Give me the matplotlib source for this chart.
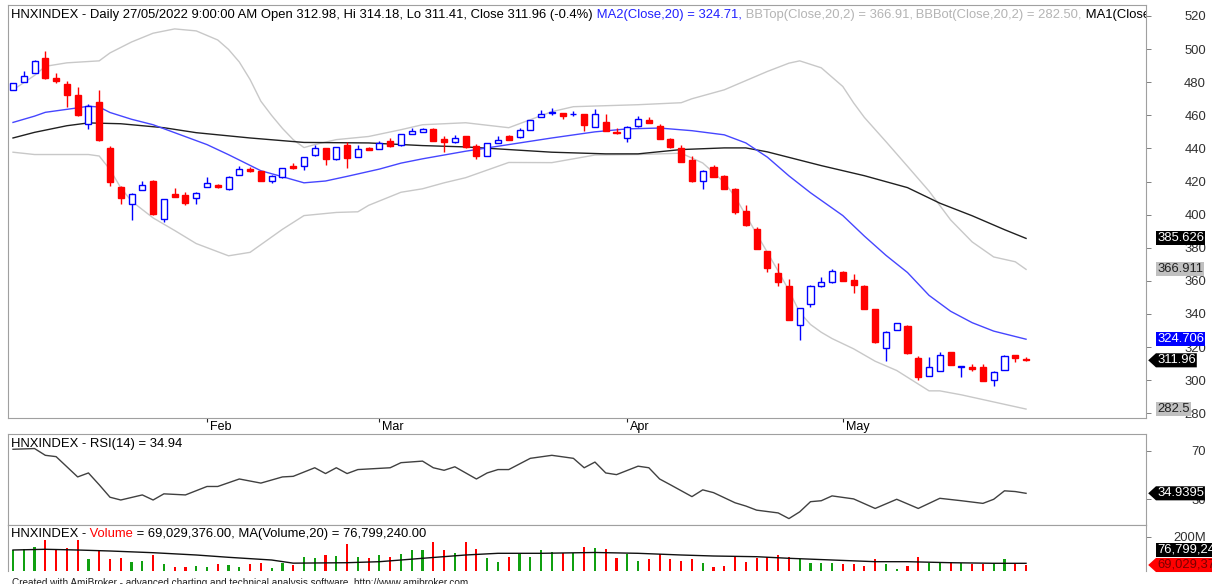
import numpy as np
import matplotlib
matplotlib.use("Agg")
import matplotlib.pyplot as plt
from matplotlib.path import Path
from matplotlib import transforms

plt.rcParams['font.family'] = ['Liberation Sans', 'DejaVu Sans']

# --- HNXINDEX daily candles, Jan -> 27 May 2022 ---
opens = [475.4, 480.4, 485.5, 494.9, 482.3, 479.0, 472.4, 454.9, 467.8, 440.3,
         416.8, 406.2, 414.8, 420.6, 397.5, 412.2, 411.6, 410.2, 416.8, 418.0,
         415.2, 424.2, 427.8, 426.2, 420.6, 423.0, 429.2, 429.2, 435.9, 440.3,
         433.3, 442.3, 434.9, 440.3, 439.9, 444.7, 441.9, 448.9, 449.9, 451.9,
         445.7, 443.7, 447.3, 441.3, 435.7, 443.3, 447.3, 446.7, 451.3, 459.0,
         461.4, 461.4, 460.6, 460.8, 453.0, 456.0, 450.0, 446.3, 453.3, 457.4,
         453.3, 445.9, 440.1, 432.8, 420.2, 428.8, 423.6, 415.6, 402.1, 391.5,
         378.0, 365.0, 357.0, 333.5, 345.9, 356.6, 359.4, 365.6, 360.4, 357.0,
         342.9, 319.6, 330.2, 332.9, 313.4, 302.7, 305.4, 316.8, 307.7, 307.7,
         307.7, 300.1, 306.1, 315.2, 312.98]
highs = [479.6, 486.5, 493.5, 499.1, 485.5, 480.8, 477.0, 467.0, 475.0, 441.3,
         417.0, 412.8, 420.2, 420.8, 409.5, 416.2, 413.6, 413.4, 422.6, 418.2,
         423.2, 429.6, 428.6, 426.4, 424.2, 428.4, 431.2, 435.1, 442.3, 440.5,
         441.1, 443.7, 442.3, 440.9, 444.5, 446.3, 448.9, 452.3, 452.3, 452.1,
         447.3, 448.3, 447.5, 442.7, 443.5, 447.3, 448.3, 452.3, 457.1, 463.4,
         464.4, 461.6, 462.9, 461.0, 463.8, 460.8, 452.3, 453.3, 459.4, 459.0,
         454.5, 446.1, 441.9, 435.5, 426.8, 430.2, 423.8, 415.8, 405.5, 392.7,
         378.2, 371.0, 361.0, 343.5, 357.2, 362.0, 367.0, 365.8, 364.0, 357.2,
         343.1, 329.4, 334.7, 333.1, 314.8, 313.8, 316.8, 317.0, 308.5, 309.8,
         309.8, 305.3, 315.0, 315.4, 314.18]
lows = [475.2, 480.2, 485.3, 482.0, 479.4, 465.0, 459.8, 451.7, 444.7, 417.2,
        406.2, 397.0, 414.6, 399.8, 395.5, 410.6, 405.5, 406.7, 416.6, 416.0,
        414.6, 424.0, 425.8, 420.4, 418.8, 422.0, 427.6, 427.2, 435.7, 430.2,
        433.1, 428.2, 434.7, 438.9, 439.7, 440.7, 441.7, 448.7, 449.7, 444.5,
        437.7, 443.5, 440.0, 433.3, 435.5, 443.1, 445.1, 446.5, 451.1, 458.8,
        460.4, 458.0, 459.4, 450.3, 452.8, 450.5, 449.0, 443.9, 453.1, 455.1,
        445.5, 440.5, 431.7, 420.0, 415.2, 422.6, 415.4, 400.6, 393.3, 379.2,
        365.4, 356.8, 336.3, 324.2, 343.9, 356.4, 358.4, 359.8, 352.5, 342.7,
        322.4, 311.8, 330.0, 316.0, 300.3, 302.5, 305.2, 309.2, 301.7, 305.6,
        299.5, 296.7, 305.9, 311.0, 311.41]
closes = [479.4, 483.9, 493.1, 482.3, 481.0, 472.4, 460.0, 465.8, 444.9, 419.6,
          410.2, 412.6, 418.0, 400.1, 409.2, 410.8, 407.2, 413.2, 419.2, 416.8,
          422.6, 427.6, 426.4, 420.6, 423.2, 428.2, 428.0, 434.9, 440.3, 433.3,
          440.9, 434.3, 439.9, 439.3, 443.3, 441.3, 448.7, 450.3, 451.9, 444.7,
          443.7, 446.3, 440.7, 435.7, 443.3, 445.3, 445.3, 450.9, 456.9, 461.0,
          462.0, 459.4, 461.0, 453.9, 461.0, 450.7, 449.4, 452.7, 457.8, 455.3,
          445.7, 440.7, 431.9, 420.2, 426.6, 422.8, 415.6, 401.5, 393.5, 379.4,
          368.0, 359.4, 336.5, 343.3, 357.0, 359.4, 366.0, 360.0, 357.6, 342.9,
          322.8, 329.2, 334.5, 316.2, 301.7, 308.2, 315.2, 309.4, 308.3, 306.7,
          299.7, 305.1, 314.8, 313.2, 311.96]
# volume, millions of shares
volume = [138.4, 143.0, 153.7, 184.7, 143.0, 149.0, 184.7, 95.4, 133.8, 95.4,
          100.0, 84.3, 88.9, 115.3, 72.2, 58.3, 58.3, 64.4, 58.3, 73.6,
          69.0, 61.1, 73.6, 79.6, 53.7, 79.6, 69.0, 107.4, 102.8, 115.3,
          110.6, 166.2, 107.4, 100.0, 115.3, 107.4, 120.0, 138.4, 138.4, 174.0,
          138.4, 123.0, 174.0, 143.0, 100.0, 84.3, 107.4, 123.0, 107.4, 138.4,
          127.8, 123.0, 123.0, 151.0, 149.0, 141.7, 100.0, 120.0, 88.9, 95.4,
          120.0, 95.4, 88.9, 95.4, 79.6, 58.3, 65.7, 104.6, 84.3, 100.0,
          107.4, 115.3, 107.4, 95.4, 79.6, 76.9, 76.9, 72.2, 72.2, 64.4,
          95.4, 72.2, 50.5, 65.7, 107.4, 76.9, 81.5, 81.5, 76.9, 72.2,
          73.6, 76.9, 95.4, 79.6, 69.029376]

month_pos = [18, 34, 57, 77]
month_labels = ['Feb', 'Mar', 'Apr', 'May']

# indicator lines: bar index -> value
ma20_x = [0, 2, 3, 6, 7, 8, 9, 11, 13, 15, 18, 20, 23, 25, 27, 29, 31, 34, 36, 38,
          42, 46, 50, 54, 57, 60, 63, 66, 68, 70, 72, 74, 77, 79, 81, 83, 85, 87, 89, 91, 94]
ma20_y = [455.7, 459.5, 461.8, 464.5, 465.5, 465.0, 461.7, 457.6, 454.3, 449.5,
          442.3, 436.2, 426.5, 422.9, 419.2, 420.3, 423.1, 427.5, 431.1, 433.7,
          438.3, 442.3, 446.3, 450.0, 451.8, 452.3, 450.7, 448.2, 443.3, 434.7,
          423.4, 413.2, 399.4, 387.0, 375.4, 365.0, 351.2, 341.6, 334.7, 329.6, 324.706]

ma1_x = [0, 2, 5, 7, 10, 14, 17, 22, 27, 33, 38, 42, 46, 50, 55, 58, 62, 66, 68, 70,
         75, 79, 83, 86, 89, 92, 94]
ma1_y = [446.3, 449.7, 453.7, 455.4, 454.9, 452.5, 449.5, 446.3, 443.6, 443.3,
         441.7, 440.9, 439.3, 437.7, 436.7, 436.7, 439.3, 440.3, 440.3, 437.9,
         429.6, 423.5, 416.3, 406.9, 399.3, 390.9, 385.626]

bbt_x = [0, 1, 2, 3, 5, 8, 9, 11, 13, 15, 17, 19, 20, 21, 22, 23, 24, 25, 26, 27,
         28, 30, 33, 36, 38, 42, 46, 50, 52, 58, 62, 63, 66, 70, 72, 73, 75, 77, 78, 79,
         81, 83, 85, 87, 89, 91, 93, 94]
bbt_y = [475.4, 479.7, 484.1, 489.6, 491.7, 492.9, 497.7, 504.3, 509.6, 512.2,
         511.0, 505.5, 499.8, 492.2, 481.6, 468.5, 459.9, 452.1, 445.3, 440.5,
         442.3, 445.3, 447.2, 451.3, 454.3, 455.5, 452.5, 462.2, 465.2, 466.4,
         467.6, 470.0, 475.4, 486.5, 491.5, 492.9, 488.7, 477.4, 467.5, 458.7,
         444.1, 429.2, 414.2, 396.8, 383.5, 374.4, 371.5, 366.911]

bbb_x = [0, 2, 5, 7, 8, 9, 10, 11, 13, 14, 15, 17, 20, 22, 25, 27, 30, 32, 33, 36,
         38, 40, 42, 46, 50, 54, 58, 62, 64, 66, 67, 69, 70, 71, 72, 73, 74, 75, 76, 78,
         80, 82, 85, 86, 88, 91, 94]
bbb_y = [437.7, 436.3, 436.3, 436.3, 435.4, 427.2, 416.2, 408.1, 398.0, 394.2,
         390.4, 382.5, 375.1, 377.2, 391.1, 399.4, 401.3, 401.7, 405.6, 413.5,
         415.6, 419.2, 422.3, 431.5, 431.4, 436.0, 436.3, 437.1, 431.2, 419.5,
         410.8, 388.4, 377.1, 365.9, 354.1, 340.9, 333.6, 328.9, 325.1, 318.9,
         311.4, 305.8, 293.5, 293.5, 291.1, 286.8, 282.5]

rsi_x = [0, 2, 3, 4, 6, 7, 8, 9, 10, 12, 13, 14, 16, 18, 19, 21, 23, 25, 26, 28,
         29, 30, 31, 32, 35, 36, 38, 39, 40, 41, 43, 44, 45, 46, 48, 50, 52, 53, 54, 55,
         56, 58, 59, 60, 61, 63, 64, 65, 67, 68, 69, 71, 72, 73, 74, 75, 76, 78, 80, 82,
         84, 86, 88, 90, 91, 92, 93, 94]
rsi_y = [71.4, 72.0, 66.4, 65.3, 48.5, 51.8, 42.0, 31.7, 29.4, 33.6, 29.4, 34.5,
         33.6, 40.6, 40.6, 46.8, 43.4, 48.5, 49.0, 56.1, 51.3, 56.1, 51.3, 54.6,
         56.1, 60.3, 61.6, 56.1, 54.0, 56.9, 46.8, 51.8, 54.6, 54.6, 63.9, 66.4,
         63.9, 56.1, 60.8, 51.8, 50.4, 57.4, 56.1, 46.8, 42.0, 32.2, 37.8, 35.5,
         27.1, 24.4, 21.0, 18.7, 14.0, 19.6, 28.0, 28.8, 32.8, 30.3, 22.4, 30.0,
         22.4, 30.8, 28.8, 26.6, 30.0, 37.0, 36.4, 34.9395]

vma_x = [0, 3, 6, 9, 13, 17, 20, 24, 26, 31, 34, 38, 42, 45, 49, 54, 58, 62, 65, 69,
         72, 76, 80, 83, 87, 91, 94]
vma_y = [138.4, 141.7, 138.4, 133.8, 125.9, 115.3, 104.6, 92.1, 77.5, 79.6, 84.3,
         100.0, 115.3, 123.1, 123.1, 126.9, 123.1, 115.3, 110.6, 107.4, 100.0, 92.1,
         84.3, 84.3, 79.6, 76.9, 76.79924]

# --- colours ---
BLUE = '#0000ff'
RED = '#ff0000'
GREEN = '#10a010'
GRID = '#a0a0a0'
BAND = '#c8c8c8'

W, H = 1212, 584
LABEL_SIZE = 9.4
HEAD_SIZE = 9.4


def frame(top, bottom, left=8, right=1145.7):
    # pixel box (from top-left) -> figure fraction rect
    return [left / W, (H - bottom) / H, (right - left) / W, (bottom - top) / H]


def tag_box(x0, y0, width, height, mutation_size):
    # AmiBroker style value tag pointing left
    pad = 0.08 * mutation_size
    x0, y0 = x0 - pad, y0 - pad
    width, height = width + 2 * pad, height + 2 * pad
    tip = height * 0.55
    return Path([(x0 - tip, y0 + height / 2), (x0, y0), (x0 + width, y0),
                 (x0 + width, y0 + height), (x0, y0 + height),
                 (x0 - tip, y0 + height / 2)], closed=True)


fig = plt.figure(figsize=(W / 100, H / 100), dpi=100)
ax = fig.add_axes(frame(5, 418.3))
ax_rsi = fig.add_axes(frame(434.3, 525))
ax_vol = fig.add_axes(frame(525, 571))

xlim = ((8 - 13) / 10.777, (1145.7 - 13) / 10.777)
for a in (ax, ax_rsi, ax_vol):
    a.set_xlim(*xlim)
    for s in a.spines.values():
        s.set_color(GRID)
        s.set_linewidth(0.8)
    a.yaxis.tick_right()
    a.tick_params(axis='y', direction='out', length=3.6, width=0.7, color='#808080',
                  labelsize=LABEL_SIZE, labelcolor='#303030', pad=39.8)
ax_vol.spines['bottom'].set_visible(False)

# --- price panel ---
o = np.array(opens)
h = np.array(highs)
l = np.array(lows)
c = np.array(closes)
x = np.arange(len(c))
up = c >= o
cols = np.where(up, BLUE, RED)

ax.plot(bbt_x, bbt_y, color=BAND, lw=1.0, zorder=1)
ax.plot(bbb_x, bbb_y, color=BAND, lw=1.0, zorder=1)
ax.plot(ma1_x, ma1_y, color='#202020', lw=1.0, zorder=1.5)
ax.plot(ma20_x, ma20_y, color='#4646ff', lw=1.0, zorder=1.6)

ax.vlines(x, l, h, colors=cols, lw=1.0, zorder=2)
ax.bar(x[up], (c - o)[up], bottom=o[up], width=0.56, facecolor='white',
       edgecolor=BLUE, lw=1.0, zorder=3)
ax.bar(x[~up], (o - c)[~up], bottom=c[~up], width=0.56, facecolor=RED,
       edgecolor=RED, lw=1.0, zorder=3)

ax.set_ylim(520 - (418.3 - 16) / 1.655, 520 + 11 / 1.655)
ax.set_yticks(range(280, 521, 20))

ax.set_xticks(month_pos)
ax.set_xticklabels(month_labels)
ax.tick_params(axis='x', direction='out', length=2.9, width=0.8, color='#222222',
               pad=-1.0, labelsize=9)
shift = transforms.ScaledTranslation(3 / 100, 0, fig.dpi_scale_trans)
for lbl in ax.get_xticklabels():
    lbl.set_horizontalalignment('left')
    lbl.set_transform(lbl.get_transform() + shift)
for a in (ax, ax_rsi, ax_vol):
    for lbl in a.get_yticklabels():
        lbl.set_horizontalalignment('right')

# --- RSI panel ---
ax_rsi.plot(rsi_x, rsi_y, color='#404040', lw=1.0)
ax_rsi.set_ylim(8.7, 83.8)
ax_rsi.set_yticks([30, 70])
ax_rsi.set_xticks([])

# --- volume panel ---
vcols = np.where(up, GREEN, RED)
ax_vol.bar(x, volume, width=0.2, color=vcols, zorder=2)
ax_vol.plot(vma_x, vma_y, color='#101010', lw=1.0, zorder=3)
ax_vol.set_ylim((579.9 - 571) / 0.216, (579.9 - 525) / 0.216)
ax_vol.set_yticks([200])
ax_vol.set_yticklabels(['200M'])
ax_vol.set_xticks([])


# --- value tags on the right axis ---
def value_tag(a, y, text, fc, tc, arrow=False, dy=0):
    tr = transforms.blended_transform_factory(fig.transFigure, a.transData)
    a.annotate(text, xy=(1157 / W, y), xycoords=tr, xytext=(0, dy),
               textcoords='offset points', ha='left', va='center', fontsize=LABEL_SIZE,
               color=tc, annotation_clip=False, zorder=6,
               bbox=dict(boxstyle=tag_box if arrow else 'square,pad=0.08',
                         fc=fc, ec='none'))


value_tag(ax, ma1_y[-1], f"{ma1_y[-1]:g}", 'black', 'white')
value_tag(ax, bbt_y[-1], f"{bbt_y[-1]:g}", '#c0c0c0', '#202020')
value_tag(ax, ma20_y[-1], f"{ma20_y[-1]:g}", BLUE, 'white')
value_tag(ax, closes[-1], f"{closes[-1]:g}", 'black', 'white', arrow=True)
value_tag(ax, bbb_y[-1], f"{bbb_y[-1]:g}", '#c0c0c0', '#202020')
value_tag(ax_rsi, rsi_y[-1], f"{rsi_y[-1]:g}", 'black', 'white', arrow=True)
value_tag(ax_vol, volume[-1], f"{volume[-1] * 1e6:,.0f}", RED, '#7a0000', arrow=True)
value_tag(ax_vol, volume[-1], f"{vma_y[-1] * 1e6:,.0f}", 'black', 'white', dy=11)


# --- panel headers ---
def header(a, x_px, base_px, parts, size=HEAD_SIZE):
    prev = None
    for text, color in parts:
        if prev is None:
            prev = a.annotate(text, xy=(x_px, H - base_px), xycoords='figure pixels',
                              ha='left', va='baseline', fontsize=size, color=color,
                              clip_on=True, zorder=7)
        else:
            prev = a.annotate(text, xy=(1, 0), xycoords=prev, ha='left',
                              va='bottom', fontsize=size, color=color,
                              clip_on=True, zorder=7)


header(ax, 11, 18.3, [
    (f"HNXINDEX - Daily 27/05/2022 9:00:00 AM Open {opens[-1]:.2f}, Hi {highs[-1]:.2f}, "
     f"Lo {lows[-1]:.2f}, Close {closes[-1]:.2f} (-0.4%)", 'black'),
    (f" MA2(Close,20) = {ma20_y[-1]:.2f},", '#2020ff'),
    (f" BBTop(Close,20,2) = {bbt_y[-1]:.2f},", '#b4b4b4'),
    (f" BBBot(Close,20,2) = {bbb_y[-1]:.2f},", '#b4b4b4'),
    (f" MA1(Close,50) = {ma1_y[-1]:.2f}", 'black'),
])
header(ax_rsi, 11, 447.3, [(f"HNXINDEX - RSI(14) = {rsi_y[-1]:.2f}", 'black')])
header(ax_vol, 11, 536.7, [
    ("HNXINDEX -", 'black'),
    (" Volume", RED),
    (f" = {volume[-1] * 1e6:,.2f}, MA(Volume,20) = {vma_y[-1] * 1e6:,.2f}", 'black'),
])

fig.text(12 / W, (H - 578.5) / H,
         "Created with AmiBroker - advanced charting and technical analysis software. "
         "http://www.amibroker.com", fontsize=7.2, color='#202020', ha='left', va='top')

fig.savefig("out.png", dpi=100)
